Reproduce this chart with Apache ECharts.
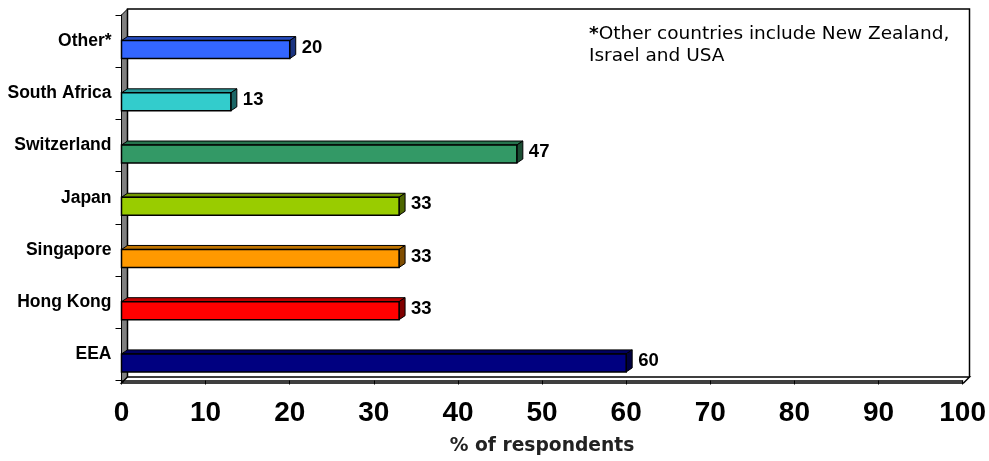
<!DOCTYPE html>
<html>
<head>
<meta charset="utf-8">
<script src="https://cdn.jsdelivr.net/npm/echarts@6/dist/echarts.min.js"></script>
<style>
	html, body { margin: 0; padding: 0; background: #fff; }
	#main { width: 989px; height: 461px; }
</style>
</head>
<body>
<div id="main"></div>
<script>
// data, top to bottom
var categories = ['Other*', 'South Africa', 'Switzerland', 'Japan', 'Singapore', 'Hong Kong', 'EEA'];
var values = [20, 13, 47, 33, 33, 33, 60];
var barColors = ['#3366FF', '#33CCCC', '#339966', '#99CC00', '#FF9900', '#FF0000', '#000080'];
var xTicks = [0, 100, 10];   // min, max, interval

// plot frame (pixels)
var gx = 121.5, gy = 15, gw = 842, gh = 368;
var dx = 6, dy = 6;

function shade(hex, k) {
	var n = parseInt(hex.slice(1), 16);
	var r = Math.round(((n >> 16) & 255) * k);
	var g = Math.round(((n >> 8) & 255) * k);
	var b = Math.round((n & 255) * k);
	return 'rgb(' + r + ',' + g + ',' + b + ')';
}

function renderBar(params, api) {
	var idx = api.value(1);
	var p0 = api.coord([0, idx]);
	var p1 = api.coord([api.value(0), idx]);
	var h = 18, bdx = 6, bdy = 4;
	var yc = p0[1] + 8.5;
	var top = yc - h / 2;
	var col = barColors[idx];
	return {
		type: 'group',
		children: [
			{
				type: 'polygon',
				shape: { points: [[p0[0], top], [p1[0], top], [p1[0] + bdx, top - bdy], [p0[0] + bdx, top - bdy]] },
				style: { fill: shade(col, 0.75), stroke: '#000', lineWidth: 1 }
			},
			{
				type: 'polygon',
				shape: { points: [[p1[0], top], [p1[0] + bdx, top - bdy], [p1[0] + bdx, top + h - bdy], [p1[0], top + h]] },
				style: { fill: shade(col, 0.5), stroke: '#000', lineWidth: 1 }
			},
			{
				type: 'rect',
				shape: { x: p0[0], y: top, width: p1[0] - p0[0], height: h },
				style: { fill: col, stroke: '#000', lineWidth: 1.5 }
			},
			{
				type: 'text',
				x: p1[0] + bdx + 6,
				y: yc - 2,
				style: {
					text: String(api.value(0)),
					fill: '#000',
					font: 'bold 18.5px "Liberation Sans", Arial, sans-serif',
					verticalAlign: 'middle',
					align: 'left'
				}
			}
		]
	};
}

var myChart = echarts.init(document.getElementById('main'));

var option = {
	backgroundColor: '#fff',
	animation: false,
	grid: { left: gx, top: gy, width: gw, height: gh, containLabel: false },
	xAxis: {
		type: 'value',
		min: xTicks[0],
		max: xTicks[1],
		interval: xTicks[2],
		name: '% of respondents',
		nameLocation: 'middle',
		nameGap: 66,
		nameTextStyle: {
			fontFamily: '"DejaVu Sans", Verdana, sans-serif',
			fontWeight: 'bold',
			fontSize: 18.7,
			color: '#222',
			verticalAlign: 'middle'
		},
		axisLine: { show: true, lineStyle: { color: '#000', width: 1.5 } },
		axisTick: { show: true, length: 4, lineStyle: { color: '#000' } },
		splitLine: { show: false },
		axisLabel: {
			margin: 33,
			verticalAlign: 'middle',
			fontFamily: '"Liberation Sans", Arial, sans-serif',
			fontWeight: 'bold',
			fontSize: 28,
			color: '#000'
		}
	},
	yAxis: {
		type: 'category',
		data: categories,
		inverse: true,
		axisLine: { show: true, lineStyle: { color: '#000', width: 1 } },
		axisTick: { show: true, length: 6, lineStyle: { color: '#000' } },
		axisLabel: {
			margin: 10,
			fontFamily: '"Liberation Sans", Arial, sans-serif',
			fontWeight: 'bold',
			fontSize: 17.5,
			color: '#000'
		}
	},
	graphic: [
		{
			type: 'polygon', z: 0,
			shape: { points: [[gx, gy], [gx + dx, gy - dy], [gx + dx, gy + gh - dy], [gx, gy + gh]] },
			style: { fill: '#808080', stroke: '#000', lineWidth: 1 }
		},
		{
			type: 'polygon', z: 0,
			shape: { points: [[gx, gy + gh], [gx + gw, gy + gh], [gx + gw + dx, gy + gh - dy], [gx + dx, gy + gh - dy]] },
			style: { fill: '#fff', stroke: '#000', lineWidth: 1.5 }
		},
		{
			type: 'polyline', z: 0,
			shape: { points: [[gx + dx, gy + gh - dy], [gx + dx, gy - dy], [gx + gw + dx, gy - dy], [gx + gw + dx, gy + gh - dy]] },
			style: { fill: null, stroke: '#000', lineWidth: 1.5 }
		},
		{
			type: 'text', z: 10,
			left: 589, top: 23,
			style: {
				text: '{b|*}Other countries include New Zealand,\nIsrael and USA',
				rich: {
					b: { fontWeight: 'bold', fontSize: 18.5, fontFamily: '"DejaVu Sans", Verdana, sans-serif', fill: '#000', lineHeight: 22 }
				},
				font: '18.5px "DejaVu Sans", Verdana, sans-serif',
				lineHeight: 22,
				fill: '#000'
			}
		}
	],
	series: [{
		type: 'custom',
		z: 5,
		renderItem: renderBar,
		encode: { x: 0, y: 1 },
		data: values.map(function (v, i) { return [v, i]; })
	}]
};

myChart.setOption(option);
</script>
</body>
</html>
